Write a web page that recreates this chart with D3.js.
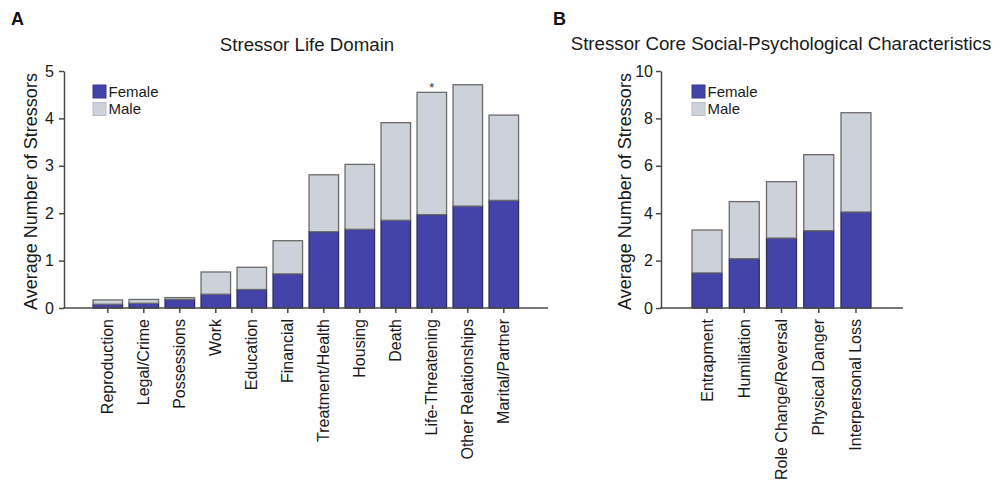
<!DOCTYPE html>
<html>
<head>
<meta charset="utf-8">
<script src="https://cdn.jsdelivr.net/npm/d3@7/dist/d3.min.js"></script>
<style>
  html, body { margin: 0; padding: 0; background: #fff; }
  svg { display: block; font-family: "Liberation Sans", Arial, Helvetica, sans-serif; }
</style>
</head>
<body>
<svg id="chart" width="1000" height="481"></svg>
<script>
// Panel A: stressor life domains
const domainCategories = ["Reproduction", "Legal/Crime", "Possessions", "Work", "Education",
  "Financial", "Treatment/Health", "Housing", "Death", "Life-Threatening",
  "Other Relationships", "Marital/Partner"];
const domainFemale = [0.08, 0.10, 0.18, 0.29, 0.39, 0.72, 1.61, 1.66, 1.85, 1.97, 2.15, 2.27];
const domainMale   = [0.09, 0.08, 0.04, 0.47, 0.47, 0.70, 1.20, 1.37, 2.06, 2.58, 2.56, 1.80];
const domainSignificance = ["", "", "", "", "", "", "", "", "", "*", "", ""];
const domainTicks = [0, 1, 2, 3, 4, 5];

// Panel B: core social-psychological characteristics
const coreCategories = ["Entrapment", "Humiliation", "Role Change/Reversal",
  "Physical Danger", "Interpersonal Loss"];
const coreFemale = [1.48, 2.08, 2.95, 3.26, 4.05];
const coreMale   = [1.81, 2.41, 2.38, 3.21, 4.19];
const coreTicks = [0, 2, 4, 6, 8, 10];

const seriesNames = ["Female", "Male"];
const colors = { Female: "#4343a9", Male: "#cdd1da" };
const strokes = { Female: "#2e2e5e", Male: "#6b6b6b" };
const axisColor = "#4a4a4a";
const textColor = "#1a1a1a";

const svg = d3.select("#chart");

function drawPanel(opt) {
  const g = svg.append("g");
  const rows = opt.categories.map((c, i) => ({ cat: c, Female: opt.female[i], Male: opt.male[i], sig: opt.sig ? opt.sig[i] : "" }));

  const x = d3.scaleBand()
    .domain(opt.categories)
    .range([opt.bandStart, opt.bandEnd])
    .paddingInner(opt.padInner)
    .paddingOuter(opt.padInner / 2);

  const y = d3.scaleLinear()
    .domain([0, opt.yMax])
    .range([opt.y0, opt.yTop]);

  const stacked = d3.stack().keys(seriesNames)(rows);

  // bars
  g.selectAll("g.series")
    .data(stacked)
    .join("g")
    .attr("class", "series")
    .attr("fill", d => colors[d.key])
    .attr("stroke", d => strokes[d.key])
    .attr("stroke-width", 1.3)
    .selectAll("rect")
    .data(d => d)
    .join("rect")
    .attr("x", d => x(d.data.cat))
    .attr("width", x.bandwidth())
    .attr("y", d => y(d[1]))
    .attr("height", d => y(d[0]) - y(d[1]));

  // significance markers
  g.selectAll("text.sig")
    .data(rows.filter(r => r.sig))
    .join("text")
    .attr("class", "sig")
    .attr("x", d => x(d.cat) + x.bandwidth() / 2)
    .attr("y", d => y(d.Female + d.Male) - 0.5)
    .attr("text-anchor", "middle")
    .attr("font-size", 13)
    .attr("fill", "#333")
    .text(d => d.sig);

  // y axis
  const yAxis = g.append("g")
    .attr("transform", `translate(${opt.axisX},0)`)
    .call(d3.axisLeft(y).tickValues(opt.ticks).tickFormat(d3.format("d"))
      .tickSize(5).tickSizeOuter(0).tickPadding(opt.tickPad));
  yAxis.select(".domain").attr("stroke", axisColor).attr("stroke-width", 1.5);
  yAxis.selectAll(".tick line").attr("stroke", axisColor).attr("stroke-width", 1.5);
  yAxis.selectAll(".tick text")
    .attr("font-size", 16)
    .attr("fill", textColor)
    .attr("font-family", "Liberation Sans, Arial, sans-serif");

  // x axis
  const xAxis = g.append("g")
    .attr("transform", `translate(0,${opt.y0})`)
    .call(d3.axisBottom(x).tickSize(5).tickSizeOuter(0).tickPadding(0));
  xAxis.select(".domain").remove();
  xAxis.append("line")
    .attr("x1", opt.axisX - 0.75).attr("x2", opt.axisEnd)
    .attr("y1", 0).attr("y2", 0)
    .attr("stroke", axisColor).attr("stroke-width", 1.5);
  xAxis.selectAll(".tick line").attr("stroke", axisColor).attr("stroke-width", 1.5);
  xAxis.selectAll(".tick text")
    .attr("font-size", 16)
    .attr("fill", textColor)
    .attr("font-family", "Liberation Sans, Arial, sans-serif")
    .attr("text-anchor", "end")
    .attr("dy", null)
    .attr("y", 0)
    .attr("transform", "translate(5.5,11) rotate(-90)");

  // y axis title
  g.append("text")
    .attr("transform", `translate(${opt.yTitleX},${(opt.y0 + opt.yTop) / 2 + 2}) rotate(-90)`)
    .attr("text-anchor", "middle")
    .attr("font-size", 18)
    .attr("fill", textColor)
    .text("Average Number of Stressors");

  // panel title
  g.append("text")
    .attr("x", opt.titleX)
    .attr("y", opt.titleY)
    .attr("text-anchor", "middle")
    .attr("font-size", 18.7)
    .attr("fill", textColor)
    .text(opt.title);

  // panel letter
  g.append("text")
    .attr("x", opt.letterX)
    .attr("y", 25)
    .attr("font-size", 18)
    .attr("font-weight", "bold")
    .attr("fill", "#111")
    .text(opt.letter);

  // legend
  const legend = g.append("g").attr("transform", `translate(${opt.legendX},85)`);
  seriesNames.forEach((name, i) => {
    const row = legend.append("g").attr("transform", `translate(0,${i * 17.5})`);
    row.append("rect")
      .attr("width", 13).attr("height", 13)
      .attr("fill", colors[name])
      .attr("stroke", name === "Female" ? "#3a3a8a" : "#b8bcc6")
      .attr("stroke-width", 1);
    row.append("text")
      .attr("x", 15.5).attr("y", 11.5)
      .attr("font-size", 15)
      .attr("fill", textColor)
      .text(name);
  });
}

drawPanel({
  categories: domainCategories, female: domainFemale, male: domainMale, sig: domainSignificance,
  ticks: domainTicks, yMax: 5, y0: 308, yTop: 71,
  bandStart: 89.8, bandEnd: 521.8, padInner: 0.18,
  axisX: 64, axisEnd: 548, tickPad: 5,
  yTitleX: 37, title: "Stressor Life Domain", titleX: 307, titleY: 51,
  letter: "A", letterX: 11, legendX: 93
});

drawPanel({
  categories: coreCategories, female: coreFemale, male: coreMale, sig: null,
  ticks: coreTicks, yMax: 10, y0: 308, yTop: 71,
  bandStart: 688.4, bandEnd: 874.6, padInner: 0.195,
  axisX: 661, axisEnd: 903, tickPad: 3,
  yTitleX: 631, title: "Stressor Core Social-Psychological Characteristics", titleX: 781, titleY: 50,
  letter: "B", letterX: 553, legendX: 692
});
</script>
</body>
</html>
